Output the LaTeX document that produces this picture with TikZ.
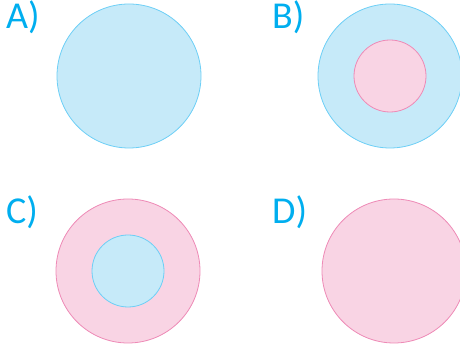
\documentclass[tikz,border=0pt]{standalone}
\usepackage{fontspec}
\setmainfont{Carlito}
\usepackage{tikz}
\usetikzlibrary{positioning}
\usepackage{xcolor}
\definecolor{optCyan}{HTML}{00AEEF}
\definecolor{setBlue}{HTML}{C6EAF9}
\definecolor{setBlueLine}{HTML}{6DCFF6}
\definecolor{setPink}{HTML}{F9D4E4}
\definecolor{setPinkLine}{HTML}{EE8AB6}

\begin{document}
\begin{tikzpicture}[
    x=1pt, y=1pt,
    disc/.style={circle, inner sep=0pt, line width=0.8pt},
    bigdisc/.style={disc, minimum size=144pt},
    smalldisc/.style={disc, minimum size=72pt},
    bluedisc/.style={fill=setBlue, draw=setBlueLine},
    pinkdisc/.style={fill=setPink, draw=setPinkLine},
    optlabel/.style={anchor=base west, inner sep=0pt, text=optCyan,
                     font=\fontsize{38}{38}\selectfont},
]
    \useasboundingbox (0,0) rectangle (460,350);
    \clip (0,0) rectangle (460,350);
    % A) one set
    \node[optlabel] (labA) at (6,321) {A)};
    \node[bigdisc, bluedisc] (discA) at (129,274) {};
    % B) pink inside blue
    \node[optlabel] (labB) at (272,321) {B)};
    \node[bigdisc, bluedisc] (outerB) at (390,274) {};
    \node[smalldisc, pinkdisc] (innerB) at (outerB.center) {};
    % C) blue inside pink
    \node[optlabel] (labC) at (6,126) {C)};
    \node[bigdisc, pinkdisc] (outerC) at (128,79) {};
    \node[smalldisc, bluedisc] (innerC) at (outerC.center) {};
    % D) one set
    \node[optlabel] (labD) at (272,126) {D)};
    \node[bigdisc, pinkdisc] (discD) at (394,79) {};
\end{tikzpicture}
\end{document}
